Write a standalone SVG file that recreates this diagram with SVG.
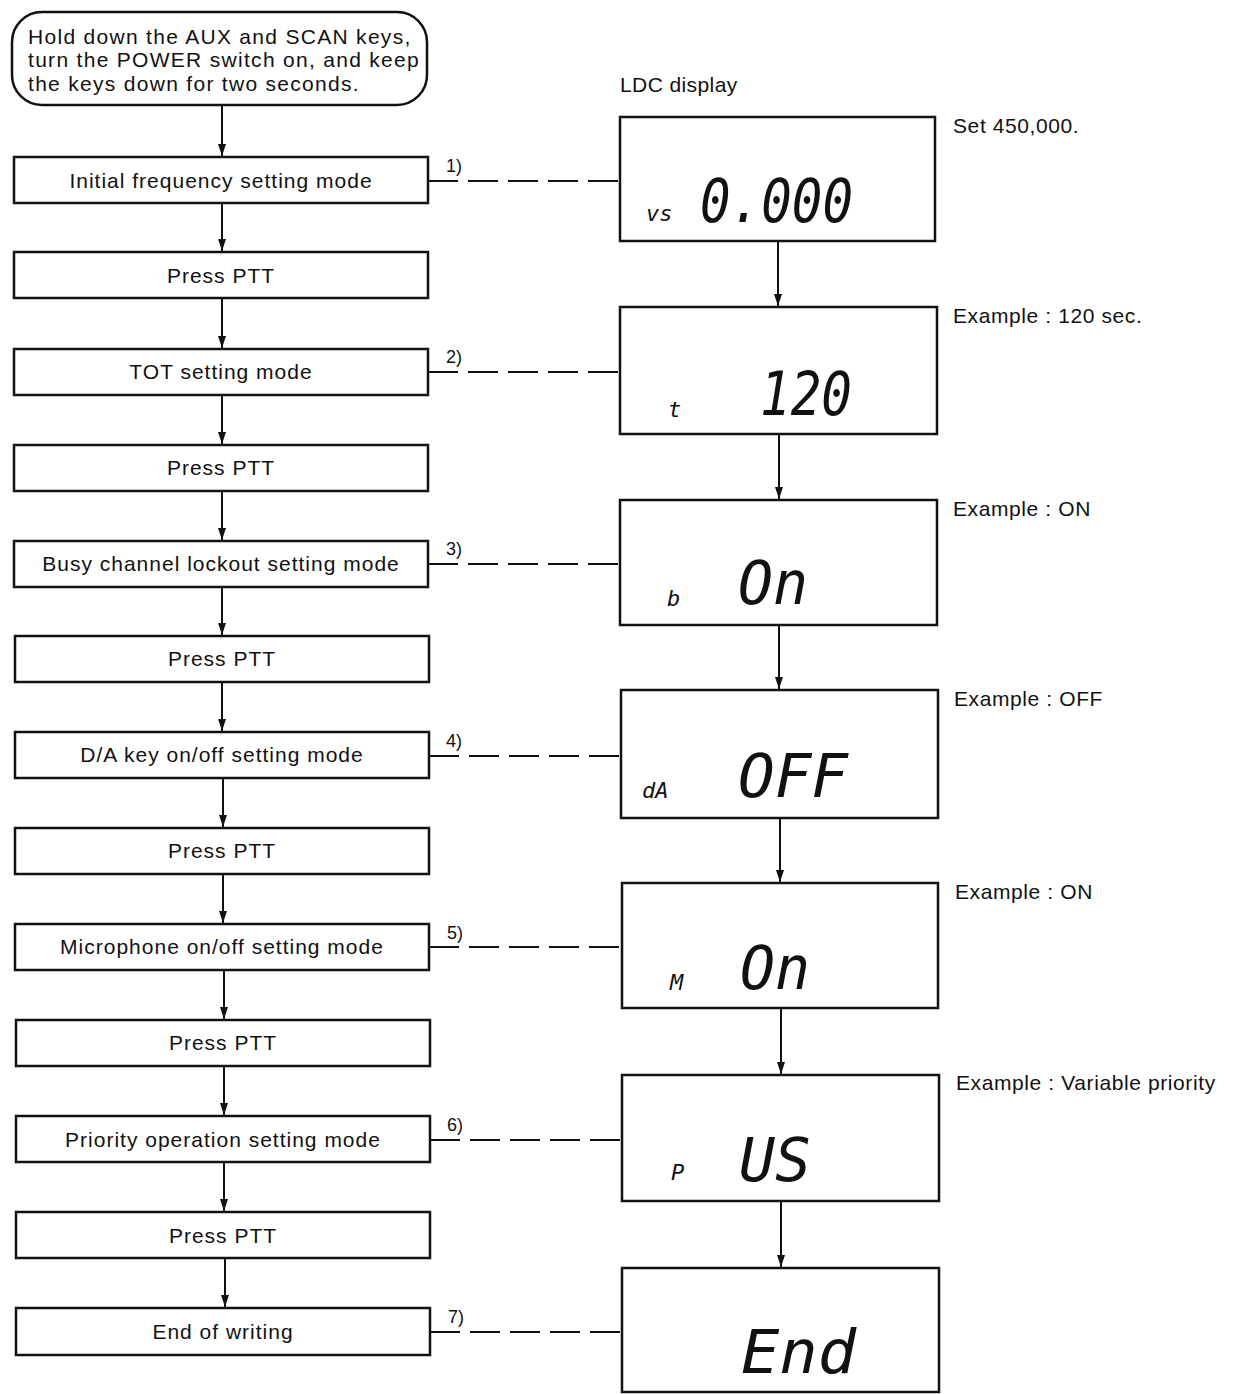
<svg xmlns="http://www.w3.org/2000/svg" width="1234" height="1394" viewBox="0 0 1234 1394">
<style>
.box{fill:#fff;stroke:#111;stroke-width:2.5}
.lcd{fill:#fff;stroke:#111;stroke-width:2.5}
.t{font-family:"Liberation Sans",Arial,sans-serif;font-size:21px;fill:#111;letter-spacing:1px}
.s{letter-spacing:1.3px}
.r{letter-spacing:0.6px}
.c{text-anchor:middle}
.n{font-family:"Liberation Sans",Arial,sans-serif;font-size:18px;fill:#111}
.seg{font-family:"DejaVu Sans Mono","Liberation Mono",monospace;font-style:oblique;fill:#111}
.big{font-size:60px}
.sm{font-size:22px}
.ln{stroke:#111;stroke-width:2;fill:none}
.ds{stroke:#111;stroke-width:2;fill:none;stroke-dasharray:30 10}
</style>
<defs>
<marker id="ah" viewBox="0 0 12 8" refX="12" refY="4" markerWidth="12" markerHeight="8" markerUnits="userSpaceOnUse" orient="auto">
<path d="M0,0 L12,4 L0,8 z" fill="#111"/>
</marker>
</defs>
<rect width="1234" height="1394" fill="#fff"/>

<g id="connectors">
<line class="ln" x1="222" y1="105" x2="222" y2="156" marker-end="url(#ah)"/>
<line class="ln" x1="222" y1="203" x2="222" y2="251" marker-end="url(#ah)" stroke-width="2.5"/>
<line class="ln" x1="222" y1="298" x2="222" y2="348" marker-end="url(#ah)"/>
<line class="ln" x1="222" y1="395" x2="222" y2="444" marker-end="url(#ah)"/>
<line class="ln" x1="222" y1="491" x2="222" y2="540" marker-end="url(#ah)"/>
<line class="ln" x1="222" y1="587" x2="222" y2="635" marker-end="url(#ah)"/>
<line class="ln" x1="222" y1="682" x2="222" y2="731" marker-end="url(#ah)"/>
<line class="ln" x1="223" y1="778" x2="223" y2="827" marker-end="url(#ah)" stroke-width="2.5"/>
<line class="ln" x1="223" y1="874" x2="223" y2="923" marker-end="url(#ah)"/>
<line class="ln" x1="224" y1="970" x2="224" y2="1019" marker-end="url(#ah)"/>
<line class="ln" x1="224" y1="1066" x2="224" y2="1115" marker-end="url(#ah)"/>
<line class="ln" x1="224" y1="1162" x2="224" y2="1211" marker-end="url(#ah)" stroke-width="2.5"/>
<line class="ln" x1="225" y1="1258" x2="225" y2="1307" marker-end="url(#ah)"/>

<line class="ds" x1="428" y1="181" x2="620" y2="181"/>
<line class="ds" x1="428" y1="372" x2="620" y2="372"/>
<line class="ds" x1="428" y1="564" x2="620" y2="564"/>
<line class="ds" x1="429" y1="756" x2="621" y2="756"/>
<line class="ds" x1="429" y1="947" x2="622" y2="947"/>
<line class="ds" x1="430" y1="1140" x2="622" y2="1140"/>
<line class="ds" x1="430" y1="1332" x2="622" y2="1332"/>

<line class="ln" x1="778" y1="241" x2="778" y2="306" marker-end="url(#ah)"/>
<line class="ln" x1="779" y1="434" x2="779" y2="499" marker-end="url(#ah)"/>
<line class="ln" x1="779" y1="625" x2="779" y2="689" marker-end="url(#ah)"/>
<line class="ln" x1="780" y1="818" x2="780" y2="882" marker-end="url(#ah)"/>
<line class="ln" x1="781" y1="1008" x2="781" y2="1074" marker-end="url(#ah)"/>
<line class="ln" x1="781" y1="1201" x2="781" y2="1267" marker-end="url(#ah)" stroke-width="2.5"/>

<text class="n" x="446" y="172">1)</text>
<text class="n" x="446" y="363">2)</text>
<text class="n" x="446" y="555">3)</text>
<text class="n" x="446" y="747">4)</text>
<text class="n" x="447" y="939">5)</text>
<text class="n" x="447" y="1131">6)</text>
<text class="n" x="448" y="1323">7)</text>
</g>

<g id="start">
<rect class="box" x="12" y="12" width="415" height="93" rx="30" ry="30"/>
<text class="t s" x="28" y="44">Hold down the AUX and SCAN keys,</text>
<text class="t s" x="28" y="67">turn the POWER switch on, and keep</text>
<text class="t s" x="28" y="91">the keys down for two seconds.</text>
</g>

<g id="n1"><rect class="box" x="14" y="157" width="414" height="46"/><text class="t c" x="221" y="188">Initial frequency setting mode</text></g>
<g id="n2"><rect class="box" x="14" y="252" width="414" height="46"/><text class="t c" x="221" y="283">Press PTT</text></g>
<g id="n3"><rect class="box" x="14" y="349" width="414" height="46"/><text class="t c" x="221" y="379">TOT setting mode</text></g>
<g id="n4"><rect class="box" x="14" y="445" width="414" height="46"/><text class="t c" x="221" y="475">Press PTT</text></g>
<g id="n5"><rect class="box" x="14" y="541" width="414" height="46"/><text class="t c" x="221" y="571">Busy channel lockout setting mode</text></g>
<g id="n6"><rect class="box" x="15" y="636" width="414" height="46"/><text class="t c" x="222" y="666">Press PTT</text></g>
<g id="n7"><rect class="box" x="15" y="732" width="414" height="46"/><text class="t c" x="222" y="762">D/A key on/off setting mode</text></g>
<g id="n8"><rect class="box" x="15" y="828" width="414" height="46"/><text class="t c" x="222" y="858">Press PTT</text></g>
<g id="n9"><rect class="box" x="15" y="924" width="414" height="46"/><text class="t c" x="222" y="954">Microphone on/off setting mode</text></g>
<g id="n10"><rect class="box" x="16" y="1020" width="414" height="46"/><text class="t c" x="223" y="1050">Press PTT</text></g>
<g id="n11"><rect class="box" x="16" y="1116" width="414" height="46"/><text class="t c" x="223" y="1147">Priority operation setting mode</text></g>
<g id="n12"><rect class="box" x="16" y="1212" width="414" height="46"/><text class="t c" x="223" y="1243">Press PTT</text></g>
<g id="n13"><rect class="box" x="16" y="1308" width="414" height="47"/><text class="t c" x="223" y="1339">End of writing</text></g>

<text class="t" x="620" y="92" style="letter-spacing:0.4px">LDC display</text>

<g id="lcd1"><rect class="lcd" x="620" y="117" width="315" height="124"/>
<text class="seg sm" x="646" y="221">vs</text>
<text class="seg big" x="700" y="222" textLength="153" lengthAdjust="spacingAndGlyphs">0.000</text></g>
<g id="lcd2"><rect class="lcd" x="620" y="307" width="317" height="127"/>
<text class="seg sm" x="668" y="417">t</text>
<text class="seg big" x="760" y="415" textLength="92" lengthAdjust="spacingAndGlyphs">120</text></g>
<g id="lcd3"><rect class="lcd" x="620" y="500" width="317" height="125"/>
<text class="seg sm" x="667" y="606">b</text>
<text class="seg big" x="738" y="604" textLength="70" lengthAdjust="spacingAndGlyphs">On</text></g>
<g id="lcd4"><rect class="lcd" x="621" y="690" width="317" height="128"/>
<text class="seg sm" x="642" y="798">dA</text>
<text class="seg big" x="738" y="797" textLength="110" lengthAdjust="spacingAndGlyphs">OFF</text></g>
<g id="lcd5"><rect class="lcd" x="622" y="883" width="316" height="125"/>
<text class="seg sm" x="670" y="990">M</text>
<text class="seg big" x="740" y="989" textLength="70" lengthAdjust="spacingAndGlyphs">On</text></g>
<g id="lcd6"><rect class="lcd" x="622" y="1075" width="317" height="126"/>
<text class="seg sm" x="671" y="1180">P</text>
<text class="seg big" x="739" y="1181" textLength="72" lengthAdjust="spacingAndGlyphs">US</text></g>
<g id="lcd7"><rect class="lcd" x="622" y="1268" width="317" height="124"/>
<text class="seg big" x="741" y="1373" textLength="115" lengthAdjust="spacingAndGlyphs">End</text></g>

<text class="t r" x="953" y="133">Set 450,000.</text>
<text class="t r" x="953" y="323">Example : 120 sec.</text>
<text class="t r" x="953" y="516">Example : ON</text>
<text class="t r" x="954" y="706">Example : OFF</text>
<text class="t r" x="955" y="899">Example : ON</text>
<text class="t r" x="956" y="1090">Example : Variable priority</text>
</svg>
